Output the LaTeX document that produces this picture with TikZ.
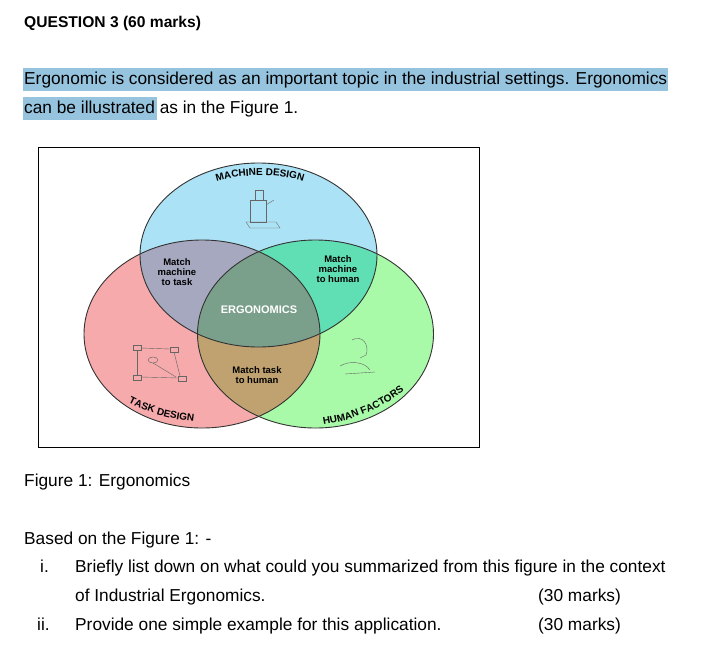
\documentclass[tikz,border=0pt]{standalone}
\usepackage{fontspec}
\setmainfont{Liberation Sans}
\usetikzlibrary{decorations.text}
\definecolor{hl}{RGB}{150,196,222}
\definecolor{cT}{RGB}{172,226,245}
\definecolor{cL}{RGB}{246,170,172}
\definecolor{cR}{RGB}{168,250,168}
\definecolor{cTL}{RGB}{166,168,192}
\definecolor{cTR}{RGB}{96,222,180}
\definecolor{cLR}{RGB}{192,162,112}
\definecolor{cC}{RGB}{122,160,140}
\tikzset{body/.style={anchor=base west,inner sep=0,font=\fontsize{17.3}{20}\selectfont},
 lab/.style={align=center,font=\bfseries\fontsize{9.5}{10}\selectfont,inner sep=0},
 ell/.style={draw=black!80,line width=0.9pt},
 curv/.style={decorate,decoration={text along path,text align=center,text={#1}}}}
\begin{document}
\begin{tikzpicture}[x=1pt,y=-1pt]
\useasboundingbox (0,0) rectangle (728,662);
\fill[white] (0,0) rectangle (728,662);
% highlights
\fill[hl] (23,68) rectangle (668,91);
\fill[hl] (23,97) rectangle (157,120);
\node[body,font=\bfseries\fontsize{15.6}{18}\selectfont] (q) at (24,27) {QUESTION 3 (60 marks)};
\node[body] (l1) at (24,84) {Ergonomic is considered as an important topic in the industrial settings. Ergonomics};
\node[body] (l2) at (24,113) {can be illustrated as in the Figure 1.};
% frame
\draw[black,line width=0.8pt] (38,147) rectangle (479,447);
% ellipses
\def\Tp{(258.5,255) ellipse [x radius=118.5,y radius=92]}
\def\Lp{(202,334) ellipse [x radius=118,y radius=94]}
\def\Rp{(315.5,334) ellipse [x radius=118,y radius=94]}
\fill[cT] \Tp; \fill[cL] \Lp; \fill[cR] \Rp;
\begin{scope}\clip \Tp; \fill[cTL] \Lp; \fill[cTR] \Rp; \end{scope}
\begin{scope}\clip \Lp; \fill[cLR] \Rp; \end{scope}
\begin{scope}\clip \Tp; \clip \Lp; \fill[cC] \Rp; \end{scope}
\draw[ell] \Tp; \draw[ell] \Lp; \draw[ell] \Rp;
% region labels
\node[lab] (mtt) at (177,272) {Match\\machine\\to task};
\node[lab] (mth) at (338,269) {Match\\machine\\to human};
\node[lab,text=white,font=\bfseries\fontsize{11}{12}\selectfont] (erg) at (259,310) {ERGONOMICS};
\node[lab] (mtk) at (257,375) {Match task\\to human};
% curved labels
\path[curv={|\bfseries\fontsize{10}{10}\selectfont|MACHINE DESIGN}]
 (205,186) .. controls (235,172) and (285,172) .. (315,186);
\path[curv={|\bfseries\fontsize{10}{10}\selectfont|TASK DESIGN}]
 (123,400) .. controls (145,412) and (170,420) .. (200,422);
\path[curv={|\bfseries\fontsize{10}{10}\selectfont|HUMAN FACTORS}]
 (316,426) .. controls (350,422) and (385,408) .. (410,386);
% small sketches
\begin{scope}[draw=black!60,line width=0.4pt]
\draw (250,200) rectangle (266,222); \draw (246,222) -- (276,222) -- (280,228) -- (250,228) -- cycle;
\draw (255,190) rectangle (263,200); \draw (266,205) -- (274,200);
\draw (133,345) rectangle (141,350); \draw (170,347) rectangle (178,352);
\draw (133,375) rectangle (141,380); \draw (178,376) rectangle (186,381);
\draw (153,360) ellipse (5 and 3); \draw (137,350) -- (137,375); \draw (141,377) -- (178,378);
\draw (141,348) -- (170,349); \draw (174,352) -- (180,376); \draw (153,363) -- (176,377);
\draw (352,340) .. controls (362,334) and (370,345) .. (366,355) -- (360,358);
\draw (340,366) .. controls (350,360) and (365,362) .. (370,370); \draw (345,374) -- (375,372);
\end{scope}
\node[body] (cap) at (24,486) {Figure 1: Ergonomics};
\node[body] (b) at (24,544) {Based on the Figure 1: -};
\node[body] (i) at (40,572) {i.};
\node[body] (t1) at (75,572) {Briefly list down on what could you summarized from this figure in the context};
\node[body] (t2) at (75,601) {of Industrial Ergonomics.};
\node[body] (m1) at (538,601) {(30 marks)};
\node[body] (ii) at (37,630) {ii.};
\node[body] (t3) at (75,630) {Provide one simple example for this application.};
\node[body] (m2) at (538,630) {(30 marks)};
\end{tikzpicture}
\end{document}
